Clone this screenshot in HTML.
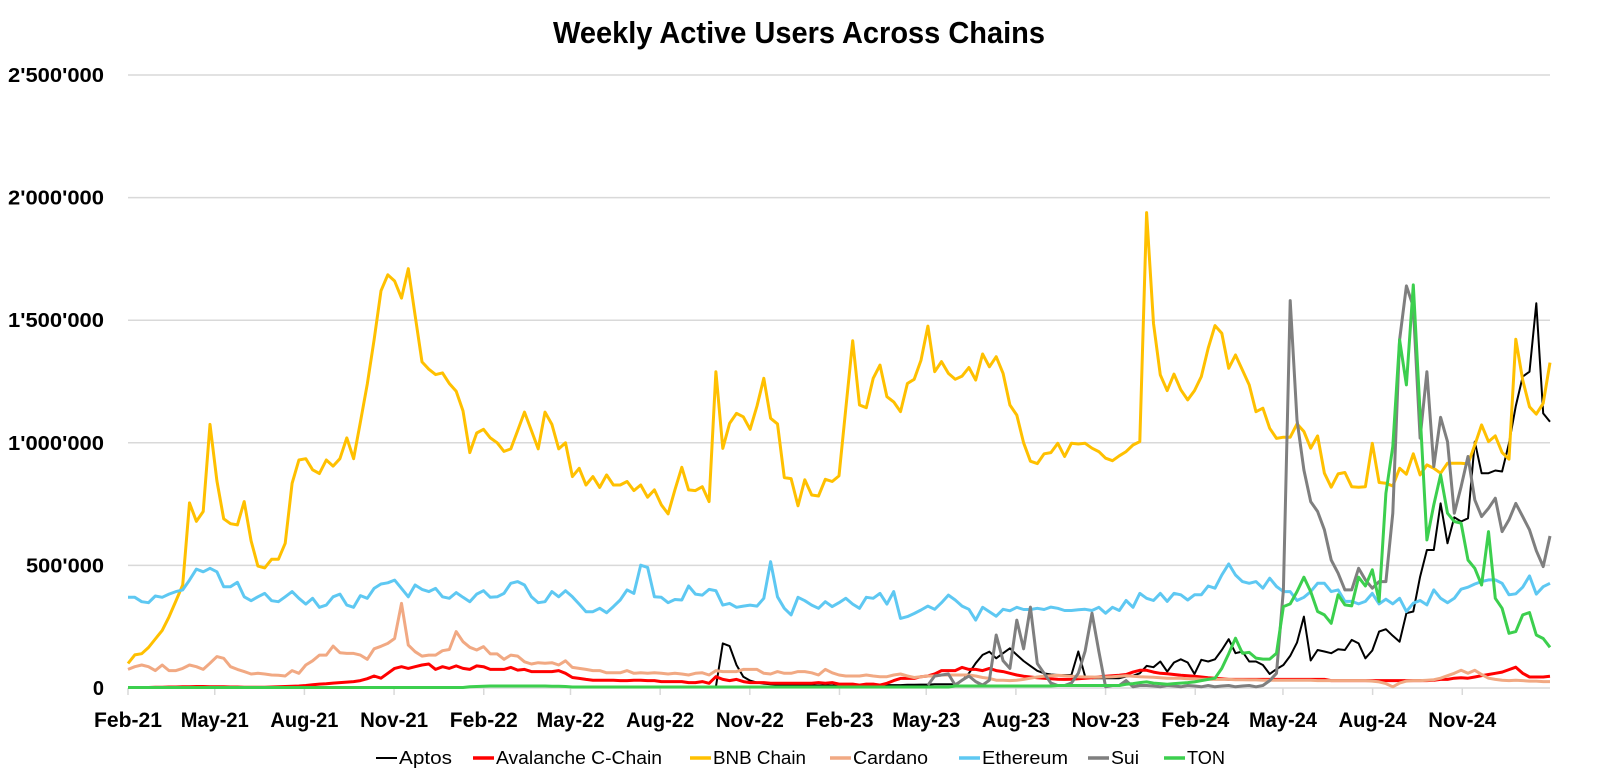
<!DOCTYPE html>
<html><head><meta charset="utf-8"><style>
html,body{margin:0;padding:0;background:#fff;}
svg{display:block;font-family:"Liberation Sans Narrow","Liberation Sans",sans-serif;}
</style></head><body>
<svg id="chart" width="1600" height="784" viewBox="0 0 1600 784" xmlns="http://www.w3.org/2000/svg">
<rect width="1600" height="784" fill="#fff"/>
<text x="799" y="43" text-anchor="middle" font-size="31" font-weight="bold" textLength="492" lengthAdjust="spacingAndGlyphs">Weekly Active Users Across Chains</text>
<g id="grid"></g><g id="axes"></g><g id="series"></g><g id="legend"></g>
</svg>
<script>
const yTicks=[0,500000,1000000,1500000,2000000,2500000];
const yTickLabels=["0","500'000","1'000'000","1'500'000","2'000'000","2'500'000"];
const xTickLabels=["Feb-21","May-21","Aug-21","Nov-21","Feb-22","May-22","Aug-22","Nov-22","Feb-23","May-23","Aug-23","Nov-23","Feb-24","May-24","Aug-24","Nov-24"];
const xTickDates=["2021-02-01","2021-05-01","2021-08-01","2021-11-01","2022-02-01","2022-05-01","2022-08-01","2022-11-01","2023-02-01","2023-05-01","2023-08-01","2023-11-01","2024-02-01","2024-05-01","2024-08-01","2024-11-01"];
const seriesNames=["Aptos","Avalanche C-Chain","BNB Chain","Cardano","Ethereum","Sui","TON"];
// values in thousands of weekly active users, weekly from Feb-2021
const aptos=[null,null,null,null,null,null,null,null,null,null,null,null,null,null,null,null,null,null,null,null,null,null,null,null,null,null,null,null,null,null,null,null,null,null,null,null,null,null,null,null,null,null,null,null,null,null,null,null,null,null,null,null,null,null,null,null,null,null,null,null,null,null,null,null,null,null,null,null,null,null,null,null,null,null,null,null,null,null,null,null,null,null,null,null,null,null,
5,182,171,94,46,30,22,18,15,14,13,12,12,11,10,10,10,10,10,10,10,10,10,10,12,
12,12,12,13,13,14,14,15,15,15,15,30,60,101,135,148,121,142,162,135,110,90,70,60,55,
53,53,53,149,47,40,40,40,40,40,47,50,60,90,85,108,67,104,117,104,57,
115,108,117,155,199,142,149,108,108,94,57,77,94,131,185,291,112,155,149,142,
158,155,196,182,121,153,230,240,213,189,305,312,454,563,563,753,590,696,679,692,
1005,876,876,887,883,998,1150,1270,1290,1569,1120,1086];
const avalanche=[2,2,2,2,3,3,4,4,5,5,6,6,5,5,5,4,4,3,3,3,3,4,5,6,7,8,
10,13,16,17,20,22,24,26,30,38,49,40,60,80,87,80,87,94,98,76,
87,80,90,80,76,90,87,76,76,76,84,73,76,67,67,67,67,71,
60,43,39,35,32,32,32,32,30,30,32,32,30,30,26,26,26,26,22,22,
26,19,46,35,30,35,26,22,22,22,19,19,19,19,19,19,19,22,19,22,
16,16,16,12,16,16,12,19,30,39,39,39,46,49,57,71,71,71,84,76,
76,71,80,71,67,60,53,48,45,42,40,38,36,
35,36,38,40,42,45,48,50,52,55,65,72,72,65,
60,58,55,52,50,48,45,42,40,38,
35,35,35,35,35,35,35,35,35,35,35,35,35,35,35,
30,30,30,30,30,30,30,30,30,30,30,30,30,30,30,
32,35,35,40,42,40,45,50,55,60,65,75,85,60,45,45,45,48];
const bnb=[100,135,140,165,200,235,290,355,420,755,
680,720,1075,845,690,670,665,760,600,497,
490,525,525,590,835,930,935,890,875,930,
905,935,1020,935,1085,1240,1420,1620,1685,1660,
1590,1710,1520,1330,1300,1278,1285,1242,1210,1130,
960,1040,1055,1020,1000,965,975,1050,1125,1050,
975,1125,1075,975,
1000,862,896,828,862,818,869,828,828,842,
805,828,778,808,747,710,808,900,808,805,
821,760,1290,977,1079,1120,1106,1055,1150,1263,
1100,1077,858,854,743,849,787,783,851,842,
865,1140,1416,1154,1143,1263,1317,1188,1167,1127,
1242,1259,1337,1476,1290,1331,1283,1259,1272,1307,
1256,1362,1310,1351,1283,1154,1113,
1000,925,915,955,960,
998,944,998,995,998,978,964,937,927,947,
964,991,1005,1939,1487,1277,1213,1280,1216,1175,
1213,1270,1386,1478,1447,1304,1358,1297,1236,1127,
1141,1059,1018,1023,1023,1077,1046,978,1028,876,
819,873,879,821,819,821,998,838,835,824,
896,872,955,869,910,896,876,917,917,917,
914,991,1073,1005,1028,960,933,
1422,1256,1147,1117,1161,1327];
const cardano=[76,87,94,87,71,94,71,71,80,94,
87,76,101,128,121,87,76,67,57,60,
57,53,52,49,71,60,94,111,134,134,
171,144,141,141,134,117,160,170,182,202,
345,175,148,130,134,134,152,157,230,189,
166,155,169,139,139,117,134,130,107,98,
103,101,103,94,
111,84,80,76,71,71,62,62,62,71,
60,62,60,62,60,57,60,57,53,60,
62,53,71,67,67,67,76,76,76,60,
57,67,60,60,67,67,62,53,76,62,
53,49,49,49,53,49,46,46,53,57,
49,43,46,49,49,53,53,53,53,53,
49,43,39,32,32,30,32,
35,40,45,48,50,52,50,48,46,45,
45,44,45,46,48,50,48,46,45,44,
42,40,40,40,38,38,36,36,35,35,
35,34,34,33,33,32,32,32,32,32,
32,32,32,30,30,30,30,30,30,30,
30,28,25,18,5,20,28,30,30,32,
34,40,50,60,72,60,72,55,40,35,
32,30,32,30,28,28,26,26];
const ethereum=[370,370,352,348,375,370,383,393,400,440,
485,474,488,474,413,413,431,372,356,372,
386,356,352,372,393,366,342,366,329,338,
372,383,338,329,377,366,406,424,429,440,
406,372,420,402,393,406,372,366,389,370,
352,383,397,370,372,386,427,434,420,372,
348,352,393,372,
397,372,342,311,311,325,307,332,359,400,
386,501,492,372,370,348,361,359,416,383,
379,402,397,338,345,329,334,338,334,366,
515,372,325,298,370,356,338,325,352,332,
348,366,342,325,370,366,386,342,393,284,
291,304,318,334,321,348,379,359,334,321,
277,329,311,293,321,315,329,
320,320,325,320,330,
325,316,316,319,321,316,329,305,329,316,
357,329,386,366,357,386,353,386,380,359,
380,380,416,407,461,506,461,434,427,434,
407,448,414,393,393,357,370,393,427,427,
393,400,353,353,343,353,386,343,362,343,
366,312,346,357,339,400,366,348,366,403,
411,424,434,441,441,427,380,384,411,457,
383,413,427];
const sui=[null,null,null,null,null,null,null,null,null,null,null,null,null,null,null,null,null,null,null,null,null,null,null,null,null,null,null,null,null,null,null,null,null,null,null,null,null,null,null,null,null,null,null,null,null,null,null,null,null,null,null,null,null,null,null,null,null,null,null,null,null,null,null,null,null,null,null,null,null,null,null,null,null,null,null,null,null,null,null,null,null,null,null,null,null,null,null,null,null,null,null,null,null,null,null,null,null,null,null,null,null,null,null,null,null,null,null,null,null,null,null,null,null,null,null,null,null,
12,49,53,57,12,32,49,26,12,32,
216,111,80,277,
160,330,100,60,20,10,10,20,60,150,305,150,
5,10,10,30,5,10,10,8,5,10,
8,5,10,8,5,10,5,8,10,5,
8,10,5,10,30,60,
400,1580,1093,889,760,720,645,522,468,400,
400,488,441,407,434,434,713,1420,1640,1555,
1019,1290,903,1104,1005,713,821,944,767,699,
733,774,638,686,753,699,645,560,495,620];
const ton=[2,2,2,2,2,2,2,2,2,2,2,2,2,2,2,2,2,2,2,2,2,2,2,2,2,2,2,2,2,2,2,2,2,2,2,2,2,2,2,2,2,2,2,2,2,2,2,2,2,2,
5,6,7,8,8,8,8,8,8,8,8,8,7,7,6,
4,4,4,4,4,4,4,4,4,4,4,4,4,4,4,4,4,4,4,4,4,4,4,4,4,4,4,4,4,4,4,4,4,4,4,4,4,4,4,4,4,4,4,4,4,4,4,4,4,4,4,4,4,4,4,4,
8,8,8,8,8,8,8,8,8,8,8,8,8,8,8,
10,10,10,10,10,10,10,10,10,10,
15,18,22,25,20,18,15,18,20,22,
25,30,35,
40,80,140,203,142,145,122,118,118,142,
332,343,393,452,393,312,298,264,380,339,
335,452,416,482,353,794,985,1420,1236,1644,
1121,604,747,869,713,679,672,522,488,420,
638,366,325,223,230,298,308,216,202,166];
const seriesData=[aptos,avalanche,bnb,cardano,ethereum,sui,ton];
const colors=["#000000","#ff0000","#ffc000","#f1a983","#5ec8f2","#7f7f7f","#3ccf4e"];
const widths=[2,3,3,3,3,3,3];
const legendX=[376,473,690,830,959,1088,1164];
const legendTextW=[53,166,93,75,86,28,38];

const NS="http://www.w3.org/2000/svg";
const X0=128,X1=1550,Y0=688,YT=75,YMAX=2500000;
const N=bnb.length;
function xw(i){return X0+i*(X1-X0)/(N-1);}
function yv(v){return Y0-(v*1000)/YMAX*(Y0-YT);}
function yt(v){return Y0-v/YMAX*(Y0-YT);}
const startDay=Date.parse("2021-02-01");
function xd(s){return X0+(Date.parse(s)-startDay)/86400000*((X1-X0)/1459);}
function mk(tag,attrs,parent){const e=document.createElementNS(NS,tag);for(const k in attrs)e.setAttribute(k,attrs[k]);parent.appendChild(e);return e;}
const grid=document.getElementById('grid'),axes=document.getElementById('axes'),ser=document.getElementById('series'),leg=document.getElementById('legend');
yTicks.forEach((t,k)=>{
  if(k>0){const l=mk('line',{x1:X0,x2:X1,y1:yt(t),y2:yt(t),stroke:'#d9d9d9','stroke-width':1.5},grid);
  
  }
  const lbl=yTickLabels[k];
  const w=lbl.length===1?12:(lbl.length===7?78:96);
  const tx=mk('text',{x:104,y:yt(t)+7,'text-anchor':'end','font-size':20,'font-weight':'bold'},axes);
  if(lbl.length>1){tx.setAttribute('textLength',w);tx.setAttribute('lengthAdjust','spacingAndGlyphs');}
  tx.textContent=lbl;
  
  
});
const ax=mk('line',{x1:X0,x2:X1,y1:Y0,y2:Y0,stroke:'#d9d9d9','stroke-width':1.5},axes);


xTickLabels.forEach((lb,k)=>{
  const x=xd(xTickDates[k]);
  const tk=mk('line',{x1:x,x2:x,y1:Y0,y2:Y0+7,stroke:'#d9d9d9','stroke-width':1.5},axes);
  
  
  const tx=mk('text',{x:x,y:727,'text-anchor':'middle','font-size':21,'font-weight':'bold',textLength:68,lengthAdjust:'spacingAndGlyphs'},axes);
  tx.textContent=lb;
  
  
});
seriesData.forEach((arr,s)=>{
  let d='',pen=false;
  arr.forEach((v,i)=>{if(v===null){pen=false;return;}d+=(pen?'L':'M')+xw(i).toFixed(1)+','+yv(v).toFixed(1);pen=true;});
  const p=mk('path',{d:d,fill:'none',stroke:colors[s],'stroke-width':widths[s],'stroke-linejoin':'round'},ser);
  
  
  const g=mk('g',{},leg);
  
  
  mk('line',{x1:legendX[s],x2:legendX[s]+21,y1:758,y2:758,stroke:colors[s],'stroke-width':s===0?2:3.5},g);
  const tx=mk('text',{x:legendX[s]+23,y:764,'font-size':18,textLength:legendTextW[s],lengthAdjust:'spacingAndGlyphs'},g);
  tx.textContent=seriesNames[s];
});
</script>
</body></html>
